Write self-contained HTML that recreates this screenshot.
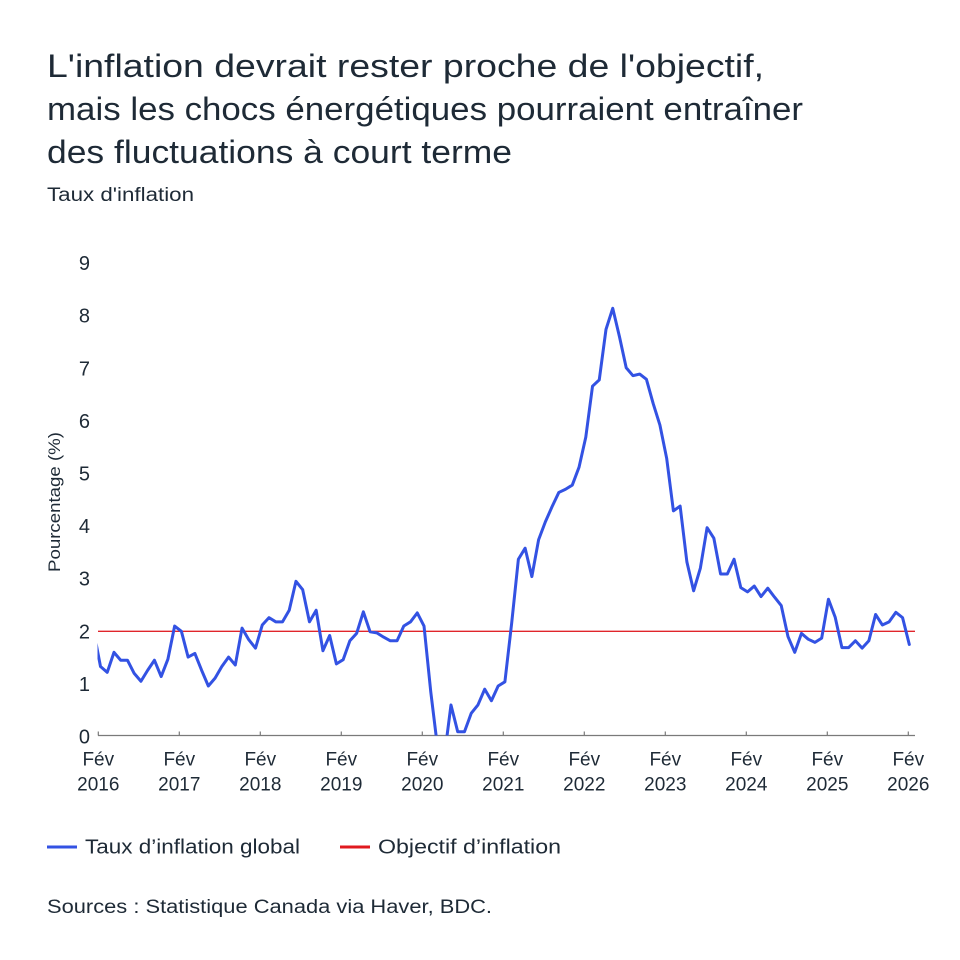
<!DOCTYPE html>
<html>
<head>
<meta charset="utf-8">
<style>
  html,body{margin:0;padding:0;background:#fff;}
  svg{display:block;}
  text{font-family:"Liberation Sans",sans-serif;fill:#1e2a36;}
</style>
</head>
<body>
<svg width="960" height="960" viewBox="0 0 960 960" xmlns="http://www.w3.org/2000/svg">
  <rect width="960" height="960" fill="#fff"/>
  <!-- Title -->
  <text x="47" y="77" font-size="32" textLength="717" lengthAdjust="spacingAndGlyphs">L'inflation devrait rester proche de l'objectif,</text>
  <text x="47" y="120" font-size="32" textLength="756" lengthAdjust="spacingAndGlyphs">mais les chocs énergétiques pourraient entraîner</text>
  <text x="47" y="163" font-size="32" textLength="465" lengthAdjust="spacingAndGlyphs">des fluctuations à court terme</text>
  <text x="47" y="201" font-size="19" textLength="147" lengthAdjust="spacingAndGlyphs">Taux d'inflation</text>

  <!-- Y tick labels -->
  <g font-size="20" text-anchor="end">
    <text x="90" y="743.5">0</text>
    <text x="90" y="690.9">1</text>
    <text x="90" y="638.3">2</text>
    <text x="90" y="585.7">3</text>
    <text x="90" y="533.1">4</text>
    <text x="90" y="480.5">5</text>
    <text x="90" y="427.9">6</text>
    <text x="90" y="375.3">7</text>
    <text x="90" y="322.7">8</text>
    <text x="90" y="270.1">9</text>
  </g>
  <!-- Y axis title -->
  <text transform="translate(60,502) rotate(-90)" font-size="17" text-anchor="middle" textLength="140" lengthAdjust="spacingAndGlyphs">Pourcentage (%)</text>

  <!-- Target line -->
  <line x1="98" y1="631.3" x2="915" y2="631.3" stroke="#e0252b" stroke-width="1.3"/>

  <!-- X axis -->
  <line x1="98" y1="735.5" x2="915" y2="735.5" stroke="#7a7a7a" stroke-width="1.3"/>
  <g stroke="#7a7a7a" stroke-width="1.2">
    <line x1="98.3" y1="731.5" x2="98.3" y2="735.5"/>
    <line x1="179.3" y1="731.5" x2="179.3" y2="735.5"/>
    <line x1="260.3" y1="731.5" x2="260.3" y2="735.5"/>
    <line x1="341.3" y1="731.5" x2="341.3" y2="735.5"/>
    <line x1="422.3" y1="731.5" x2="422.3" y2="735.5"/>
    <line x1="503.3" y1="731.5" x2="503.3" y2="735.5"/>
    <line x1="584.3" y1="731.5" x2="584.3" y2="735.5"/>
    <line x1="665.3" y1="731.5" x2="665.3" y2="735.5"/>
    <line x1="746.3" y1="731.5" x2="746.3" y2="735.5"/>
    <line x1="827.3" y1="731.5" x2="827.3" y2="735.5"/>
    <line x1="908.3" y1="731.5" x2="908.3" y2="735.5"/>
  </g>
  <g font-size="19" text-anchor="middle">
    <text x="98.3" y="765.5">Fév</text><text x="98.3" y="790.5">2016</text>
    <text x="179.3" y="765.5">Fév</text><text x="179.3" y="790.5">2017</text>
    <text x="260.3" y="765.5">Fév</text><text x="260.3" y="790.5">2018</text>
    <text x="341.3" y="765.5">Fév</text><text x="341.3" y="790.5">2019</text>
    <text x="422.3" y="765.5">Fév</text><text x="422.3" y="790.5">2020</text>
    <text x="503.3" y="765.5">Fév</text><text x="503.3" y="790.5">2021</text>
    <text x="584.3" y="765.5">Fév</text><text x="584.3" y="790.5">2022</text>
    <text x="665.3" y="765.5">Fév</text><text x="665.3" y="790.5">2023</text>
    <text x="746.3" y="765.5">Fév</text><text x="746.3" y="790.5">2024</text>
    <text x="827.3" y="765.5">Fév</text><text x="827.3" y="790.5">2025</text>
    <text x="908.3" y="765.5">Fév</text><text x="908.3" y="790.5">2026</text>
  </g>

  <!-- Series -->
  <defs>
    <clipPath id="plot"><rect x="97.5" y="240" width="825" height="495.5"/></clipPath>
  </defs>
  <g clip-path="url(#plot)">
    <polyline transform="translate(100.5,736.5) scale(6.74,-52.6)" vector-effect="non-scaling-stroke"
      fill="none" stroke="#3352e3" stroke-width="3" stroke-linejoin="round" stroke-linecap="round"
      points="-1,2.0 0,1.33 1,1.22 2,1.60 3,1.45 4,1.45 5,1.20 6,1.05 7,1.26 8,1.45 9,1.14 10,1.47
      11,2.10 12,2.00 13,1.51 14,1.58 15,1.26 16,0.96 17,1.11 18,1.33 19,1.51 20,1.36 21,2.06 22,1.84
      23,1.68 24,2.12 25,2.26 26,2.18 27,2.18 28,2.40 29,2.95 30,2.79 31,2.18 32,2.40 33,1.63 34,1.92
      35,1.38 36,1.46 37,1.82 38,1.96 39,2.37 40,1.99 41,1.97 42,1.89 43,1.82 44,1.82 45,2.10 46,2.18
      47,2.35 48,2.10 49,0.85 50,-0.2 51,-0.4 52,0.6 53,0.09 54,0.09 55,0.44 56,0.6 57,0.9 58,0.68
      59,0.96 60,1.04 61,2.15 62,3.37 63,3.58 64,3.04 65,3.74 66,4.08 67,4.37 68,4.64 69,4.70 70,4.78
      71,5.12 72,5.69 73,6.66 74,6.78 75,7.74 76,8.14 77,7.60 78,7.01 79,6.86 80,6.89 81,6.79 82,6.33
      83,5.92 84,5.29 85,4.29 86,4.38 87,3.32 88,2.77 89,3.20 90,3.97 91,3.77 92,3.09 93,3.09 94,3.37
      95,2.83 96,2.75 97,2.86 98,2.66 99,2.82 100,2.65 101,2.49 102,1.90 103,1.60 104,1.96 105,1.85 106,1.79
      107,1.87 108,2.61 109,2.27 110,1.69 111,1.69 112,1.82 113,1.68 114,1.82 115,2.32 116,2.12 117,2.18 118,2.36
      119,2.26 120,1.75"/>
  </g>

  <!-- Legend -->
  <line x1="47" y1="847" x2="77" y2="847" stroke="#3352e3" stroke-width="3"/>
  <text x="85" y="853.5" font-size="20" textLength="215" lengthAdjust="spacingAndGlyphs">Taux d’inflation global</text>
  <line x1="340" y1="847" x2="370" y2="847" stroke="#e0191f" stroke-width="3"/>
  <text x="378" y="853.5" font-size="20" textLength="183" lengthAdjust="spacingAndGlyphs">Objectif d’inflation</text>

  <!-- Sources -->
  <text x="47" y="913" font-size="19" textLength="445" lengthAdjust="spacingAndGlyphs">Sources : Statistique Canada via Haver, BDC.</text>
</svg>
</body>
</html>
